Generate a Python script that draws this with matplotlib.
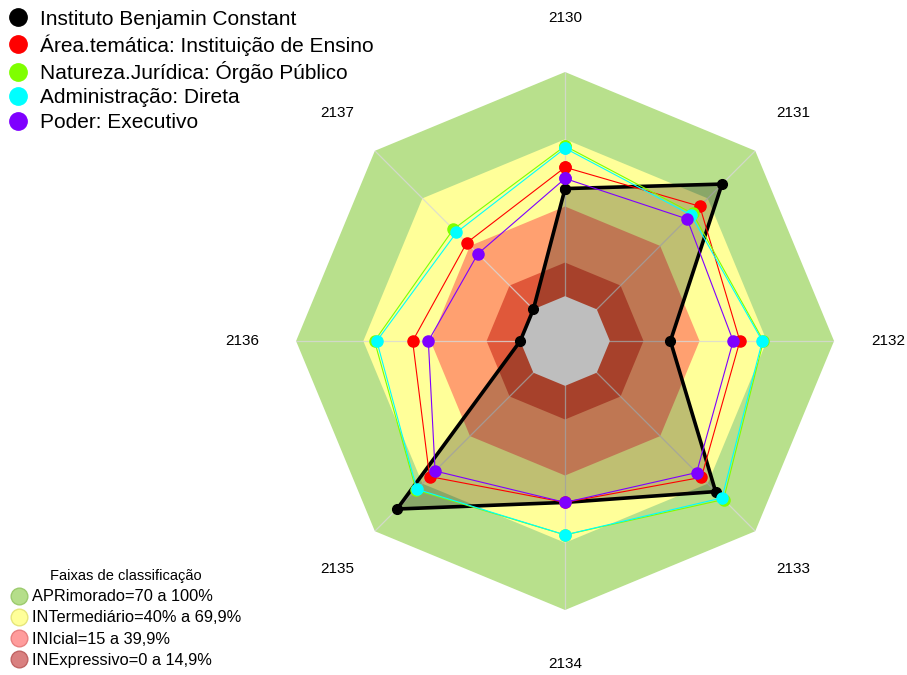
import numpy as np
import matplotlib.pyplot as plt
from matplotlib.lines import Line2D

plt.rcParams['font.family'] = ['Liberation Sans', 'DejaVu Sans']

# axis labels (clockwise from top)
eixos = ['2130', '2131', '2132', '2133', '2134', '2135', '2136', '2137']

# series values (%)
ibc      = [48, 79, 27, 75, 52, 86, 0, 0]
area     = [57.5, 65, 58, 66, 52, 65.5, 48, 42]
natureza = [67, 60.5, 68.5, 80, 66.5, 74, 65, 50.5]
admin    = [66, 59.5, 68, 79, 66.5, 73.5, 64, 48.5]
poder    = [52.5, 57, 55, 63, 52, 62, 41, 35]

series_nomes = ['Instituto Benjamin Constant',
                'Área.temática: Instituição de Ensino',
                'Natureza.Jurídica: Órgão Público',
                'Administração: Direta',
                'Poder: Executivo']
series_cores = ['#000000', '#FF0000', '#7FFF00', '#00FFFF', '#7F00FF']

# classification bands
faixas_lim = [100, 70, 40, 15]
faixas_cor = ['#B8E08C', '#FFFF99', '#FFA070', '#E0583A']
centro_cor = '#BEBEBE'
faixas_nomes = ['APRimorado=70 a 100%', 'INTermediário=40% a 69,9%',
                'INIcial=15 a 39,9%', 'INExpressivo=0 a 14,9%']
faixas_leg_cor = ['#B5DE8A', '#FFFF99', '#FF9C9C', '#D98080']
faixas_leg_borda = ['#9CCB6E', '#E6E67A', '#E88080', '#C06464']

n = len(eixos)
theta = np.linspace(0, 2 * np.pi, n, endpoint=False)
theta_c = np.append(theta, theta[0])

def fechar(v):
    return np.append(v, v[0])

fig = plt.figure(figsize=(9.07, 6.75), dpi=100)
ax = fig.add_axes([0.3264, 0.0963, 0.5932, 0.797], projection='polar')
ax.set_theta_offset(np.pi / 2)
ax.set_theta_direction(-1)
ax.set_ylim(-20, 100)
ax.grid(False)
ax.set_xticks([])
ax.set_yticks([])
ax.spines['polar'].set_visible(False)
ax.patch.set_alpha(0)

# bands, outermost first
for lim, cor in zip(faixas_lim, faixas_cor):
    ax.fill(theta_c, np.full(n + 1, lim), color=cor, lw=0, zorder=1)

# spokes
for t in theta:
    ax.plot([t, t], [-20, 100], color='#D8D8D8', lw=0.9, alpha=0.8, zorder=2)

# axis labels
for t, lab in zip(theta, eixos):
    ax.text(t, 124, lab, ha='center', va='center', fontsize=11, clip_on=False)

# black series with fill
ax.fill(theta_c, fechar(ibc), color='black', alpha=0.25, lw=0, zorder=3)
# grey centre on top of the fill
ax.fill(theta_c, np.zeros(n + 1), color=centro_cor, lw=0, zorder=3.5)
ax.plot(theta_c, fechar(ibc), color='black', lw=2.6, marker='o', ms=7, zorder=4)

for vals, cor in zip([area, natureza, admin, poder], series_cores[1:]):
    ax.plot(theta_c, fechar(vals), color=cor, lw=0.8, marker='o', ms=8, zorder=5)

# top legend
handles = [Line2D([], [], ls='none', marker='o', ms=12.5, color=c) for c in series_cores]
fig.legend(handles, series_nomes, loc='upper left', bbox_to_anchor=(-0.0033, 0.998),
           frameon=False, fontsize=15, labelspacing=0.26, handletextpad=0.45,
           handlelength=1.2, borderaxespad=0)

# bottom legend
h2 = [Line2D([], [], ls='none', marker='o', ms=12, markerfacecolor=c,
             markeredgecolor=b, markeredgewidth=1) for c, b in zip(faixas_leg_cor, faixas_leg_borda)]
fig.legend(h2, faixas_nomes, loc='lower left', bbox_to_anchor=(-0.002, -0.006),
           frameon=False, fontsize=11.8, labelspacing=0.37, handletextpad=0.15,
           handlelength=1.2, borderaxespad=0.3, title='Faixas de classificação',
           title_fontsize=10.5)

fig.savefig('out.png', dpi=100)
